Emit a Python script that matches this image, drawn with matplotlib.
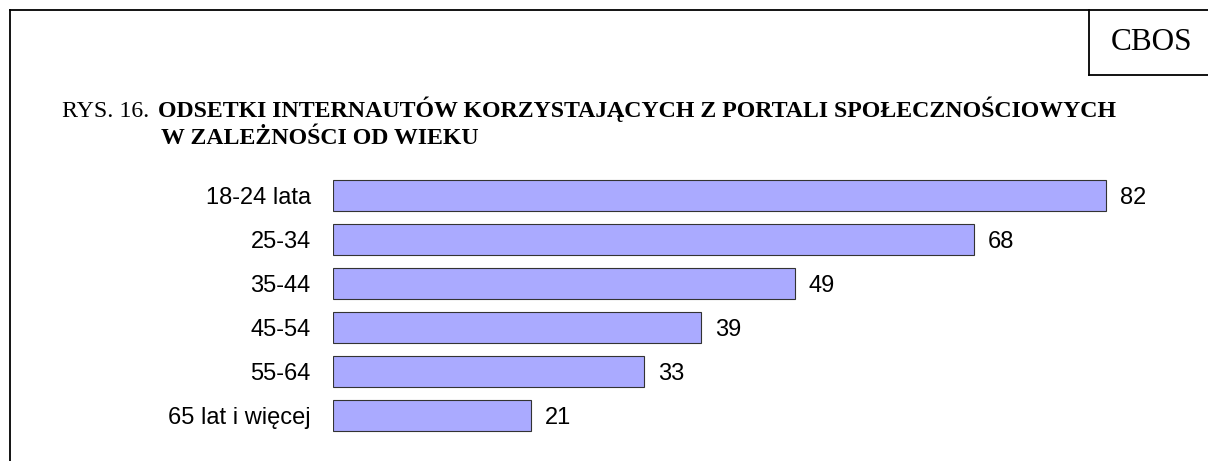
import matplotlib.pyplot as plt
from matplotlib.lines import Line2D

# data
groups = ['18-24 lata', '25-34', '35-44', '45-54', '55-64', '65 lat i więcej']
values = [82, 68, 49, 39, 33, 21]

W, H = 1208, 461
fig = plt.figure(figsize=(W / 100, H / 100), dpi=100)

def fx(px):
    return px / W

def fy(py):
    return 1 - py / H

# outer frame (top + left) and CBOS box
lw = 1.3
fig.add_artist(Line2D([fx(9.5), fx(W)], [fy(10), fy(10)], color='black', lw=lw))
fig.add_artist(Line2D([fx(9.5), fx(9.5)], [fy(10), fy(H)], color='black', lw=lw))
fig.add_artist(Line2D([fx(1089), fx(1089)], [fy(10), fy(75)], color='black', lw=lw))
fig.add_artist(Line2D([fx(1089), fx(W)], [fy(75), fy(75)], color='black', lw=lw))
fig.text(fx(1152), fy(43), 'CBOS', family='Liberation Serif', fontsize=22.5,
         ha='center', va='center')

# title
tsize = 17.2
fig.text(fx(62), fy(117), 'RYS. 16.', family='Liberation Serif', fontsize=tsize,
         ha='left', va='baseline')
fig.text(fx(158), fy(117), 'ODSETKI INTERNAUTÓW KORZYSTAJĄCYCH Z PORTALI SPOŁECZNOŚCIOWYCH',
         family='Liberation Serif', fontsize=tsize, weight='bold', ha='left', va='baseline')
fig.text(fx(161), fy(144), 'W ZALEŻNOŚCI OD WIEKU', family='Liberation Serif',
         fontsize=tsize, weight='bold', ha='left', va='baseline')

# bars
x0, x1 = 333, 1180
y_top, y_bot = 173, 438
ax = fig.add_axes([fx(x0), fy(y_bot), (x1 - x0) / W, (y_bot - y_top) / H])
scale = (1106 - 333) / 82
ax.set_xlim(0, (x1 - x0) / scale)
ax.set_ylim(len(groups) - 0.5, -0.5)

pos = list(range(len(groups)))
ax.barh(pos, values, height=0.7, color='#aaaaff', edgecolor='#333333', linewidth=0.8)
for p, v in zip(pos, values):
    ax.text(v + 14 / scale, p, str(v), va='center_baseline', ha='left',
            family='Liberation Sans', fontsize=17)

ax.set_yticks(pos)
ax.set_yticklabels(groups, family='Liberation Sans', fontsize=17)
ax.tick_params(axis='y', length=0, pad=16)
ax.set_xticks([])
for s in ax.spines.values():
    s.set_visible(False)

fig.savefig('out.png', dpi=100)
